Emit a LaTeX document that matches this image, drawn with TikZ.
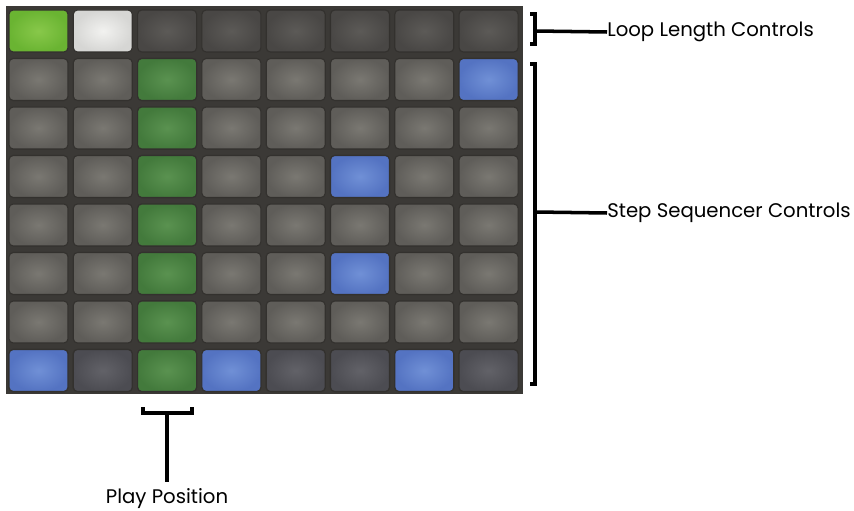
\documentclass[tikz,border=0pt]{standalone}
\usepackage{fontspec}
\setmainfont{Poppins}
\usepackage{xcolor}
\definecolor{panelc}{HTML}{3B3936}
\definecolor{edgec}{HTML}{33312E}
\definecolor{grayin}{HTML}{7A7872}
\definecolor{grayout}{HTML}{5F5D59}
\definecolor{dimin}{HTML}{5C5A57}
\definecolor{dimout}{HTML}{494745}
\definecolor{lowin}{HTML}{626268}
\definecolor{lowout}{HTML}{4C4C52}
\definecolor{greenin}{HTML}{5A9250}
\definecolor{greenout}{HTML}{437A3C}
\definecolor{bluein}{HTML}{7090D6}
\definecolor{blueout}{HTML}{5473C2}
\definecolor{limein}{HTML}{88C84A}
\definecolor{limeout}{HTML}{6AB432}
\definecolor{whitein}{HTML}{F2F2F0}
\definecolor{whiteout}{HTML}{D6D6D4}
\tikzset{
  pad/.style={rounded corners=3pt, draw=edgec, line width=0.8pt},
  graypad/.style={pad, inner color=grayin, outer color=grayout},
  dimpad/.style={pad, inner color=dimin, outer color=dimout},
  lowpad/.style={pad, inner color=lowin, outer color=lowout},
  greenpad/.style={pad, inner color=greenin, outer color=greenout},
  bluepad/.style={pad, inner color=bluein, outer color=blueout},
  limepad/.style={pad, inner color=limein, outer color=limeout},
  whitepad/.style={pad, inner color=whitein, outer color=whiteout},
  brace/.style={draw=black, line width=2.5pt, line cap=butt, line join=miter},
  caption/.style={font=\fontsize{14}{16}\selectfont, inner sep=0pt},
}

\begin{document}
\begin{tikzpicture}[x=0.025cm, y=-0.025cm]
\useasboundingbox (0,0) rectangle (854,511);
\fill[panelc] (6,6) rectangle (523,394);
% pads
\foreach \c in {0,...,7}
  \foreach \r in {1,...,7}
    \shadedraw[graypad] ({9+64.3*\c},{10+48.5*\r}) rectangle ++(59,42);
\shadedraw[limepad] (9,10) rectangle ++(59,42);
\shadedraw[whitepad] (73.3,10) rectangle ++(59,42);
\foreach \c in {2,...,7}
  \shadedraw[dimpad] ({9+64.3*\c},10) rectangle ++(59,42);
\foreach \r in {1,...,7}
  \shadedraw[greenpad] (137.6,{10+48.5*\r}) rectangle ++(59,42);
\foreach \c/\r in {7/1,5/3,5/5,0/7,3/7,6/7}
  \shadedraw[bluepad] ({9+64.3*\c},{10+48.5*\r}) rectangle ++(59,42);
\foreach \c in {1,4,5,7}
  \shadedraw[lowpad] ({9+64.3*\c},349.5) rectangle ++(59,42);
% labels
\node[caption, anchor=west] (loop) at (607,32) {Loop Length Controls};
\node[caption, anchor=west] (step) at (607,213) {Step Sequencer Controls};
\node[caption, anchor=north] (play) at (167,488) {Play Position};
% brackets
\draw[brace] (530,14) -- (535,14) -- (535,44) -- (530,44);
\draw[brace] (530,64) -- (535,64) -- (535,384) -- (530,384);
\draw[brace] (143,407) -- (143,413) -- (192,413) -- (192,407);
\coordinate (loopbr) at (535,31);
\coordinate (stepbr) at (535,212);
\coordinate (playbr) at (167,413);
\draw[brace] (loopbr) -- (loop.west);
\draw[brace] (stepbr) -- (step.west);
\draw[brace, shorten >=4pt] (playbr) -- (play.north);
\end{tikzpicture}
\end{document}
